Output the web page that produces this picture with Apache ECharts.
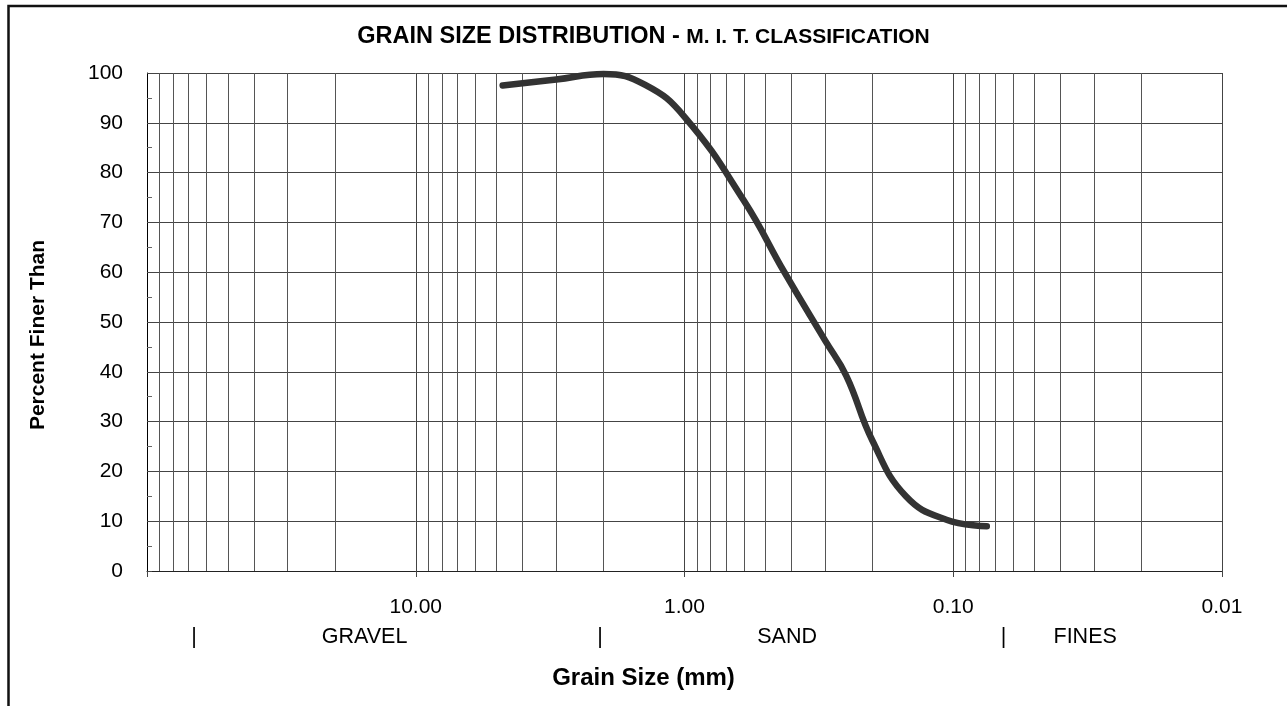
<!DOCTYPE html>
<html lang="en">
<head>
    <meta charset="UTF-8">
    <title>Grain Size Distribution</title>
    <script src="https://cdn.jsdelivr.net/npm/echarts@6/dist/echarts.min.js"></script>
    <style>
        html, body { margin: 0; padding: 0; background: #fff; }
        #main { width: 1287px; height: 706px; }
    </style>
</head>
<body>
<div id="main"></div>
<script type="text/javascript">
    // sieve sizes (mm) and percent finer
    var sizes   = [4.75, 3.0, 2.0, 1.4, 1.0, 0.6, 0.425, 0.3, 0.25, 0.2, 0.15, 0.106, 0.075];
    var percent = [97.5, 98.7, 99.8, 97.6, 91.2, 74.3, 60.0, 46.3, 39.2, 26.2, 15.0, 10.3, 9.0];

    // M.I.T. zone markers under the axis (positions in mm)
    var zoneNames = ['|', 'GRAVEL', '|', 'SAND', '|', 'FINES'];
    var zonePos   = [66.8, 15.5, 2.06, 0.415, 0.065, 0.0323];

    var yTicks = [0, 10, 20, 30, 40, 50, 60, 70, 80, 90, 100];

    var font = 'Arial, "Liberation Sans", sans-serif';

    // minor log grid lines 2..9 of each decade
    var minorLines = [];
    [0.01, 0.1, 1, 10].forEach(function (d) {
        for (var k = 2; k <= 9; k++) {
            minorLines.push({ xAxis: +(k * d).toPrecision(3) });
        }
    });

    var chart = echarts.init(document.getElementById('main'));

    var option = {
        backgroundColor: '#fff',
        animation: false,
        title: [
            {
                text: '{a|GRAIN SIZE DISTRIBUTION - }{b|M. I. T. CLASSIFICATION}',
                left: 'center',
                top: 20,
                textStyle: {
                    rich: {
                        a: { fontFamily: font, fontWeight: 'bold', fontSize: 23.5, color: '#000' },
                        b: { fontFamily: font, fontWeight: 'bold', fontSize: 21, color: '#000' }
                    }
                }
            },
            {
                text: 'Grain Size (mm)',
                left: 'center',
                top: 661,
                textStyle: { fontFamily: font, fontWeight: 'bold', fontSize: 24, color: '#000' }
            }
        ],
        grid: {
            left: 147,
            top: 73,
            right: 65,
            bottom: 135
        },
        xAxis: {
            type: 'log',
            logBase: 10,
            inverse: true,
            min: 0.01,
            max: 100,
            axisLine: { show: true, lineStyle: { color: '#222', width: 1 } },
            axisTick: { show: true, length: 6, lineStyle: { color: '#444' } },
            axisLabel: {
                color: '#000',
                fontFamily: font,
                fontSize: 21,
                margin: 26,
                formatter: function (v) {
                    return v >= 99 ? '' : v.toFixed(2);
                }
            },
            splitLine: { show: true, lineStyle: { color: '#444', width: 1 } }
        },
        yAxis: {
            type: 'value',
            min: 0,
            max: 100,
            interval: 10,
            axisLine: { show: true, lineStyle: { color: '#000', width: 1 } },
            axisTick: { show: true, inside: true, length: 5, lineStyle: { color: '#444' } },
            minorTick: { show: true, splitNumber: 2, length: 5, lineStyle: { color: '#666' } },
            axisLabel: {
                color: '#000',
                fontFamily: font,
                fontSize: 21,
                margin: 24,
                formatter: function (v) {
                    return yTicks.indexOf(v) >= 0 ? String(v) : '';
                }
            },
            splitLine: { show: true, lineStyle: { color: '#444', width: 1 } }
        },
        series: [
            {
                name: 'grid',
                type: 'line',
                data: [],
                silent: true,
                z: 1,
                markLine: {
                    silent: true,
                    z: 1,
                    symbol: ['none', 'none'],
                    label: { show: false },
                    lineStyle: { color: '#555', width: 1, type: 'solid' },
                    emphasis: { disabled: true },
                    data: minorLines
                }
            },
            {
                name: 'Percent Finer',
                type: 'line',
                z: 3,
                smooth: 0.45,
                showSymbol: false,
                symbol: 'none',
                lineStyle: { color: '#333', width: 6.5, cap: 'round', join: 'round' },
                data: sizes.map(function (s, i) { return [s, percent[i]]; })
            }
        ]
    };

    chart.setOption(option);

    // texts placed against the axis scale, plus the outer frame
    var bottomY = 637;
    var graphics = [
        {
            type: 'rect',
            silent: true,
            shape: { x: 8.5, y: 6, width: 1400, height: 800 },
            style: { fill: 'none', stroke: '#111', lineWidth: 2.5 }
        },
        {
            type: 'text',
            silent: true,
            x: 38,
            y: 335,
            rotation: Math.PI / 2,
            style: {
                text: 'Percent Finer Than',
                fontFamily: font,
                fontWeight: 'bold',
                fontSize: 21,
                fill: '#000',
                align: 'center',
                verticalAlign: 'middle'
            }
        }
    ];
    zonePos.forEach(function (p, i) {
        var px = chart.convertToPixel({ xAxisIndex: 0 }, p);
        graphics.push({
            type: 'text',
            silent: true,
            x: px,
            y: bottomY,
            style: {
                text: zoneNames[i],
                fontFamily: font,
                fontSize: 21.5,
                fill: '#000',
                align: 'center',
                verticalAlign: 'middle'
            }
        });
    });
    chart.setOption({ graphic: graphics });
</script>
</body>
</html>
